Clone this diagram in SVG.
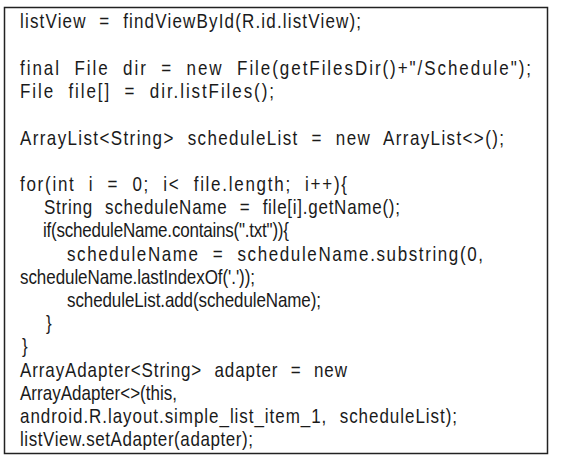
<svg xmlns="http://www.w3.org/2000/svg" width="567" height="456" viewBox="0 0 567 456">
<style>
.code{font-family:"Liberation Sans",Arial,sans-serif;font-size:20px;fill:#1a1a1a;word-spacing:8px}
.box{fill:#fff;stroke:#222;stroke-width:1.5}
</style>
<rect width="567" height="456" fill="#fff"/>
<g id="codebox">
<rect class="box" x="4.5" y="7.5" width="543" height="446"/>
<g transform="scale(0.85,1)">
<text class="code" x="23.53" y="28.5" textLength="401.2" lengthAdjust="spacing">listView = findViewById(R.id.listView);</text>
<text class="code" x="23.53" y="75" textLength="601.2" lengthAdjust="spacing">final File dir = new File(getFilesDir()+"/Schedule");</text>
<text class="code" x="23.53" y="98.2" textLength="298.8" lengthAdjust="spacing">File file[] = dir.listFiles();</text>
<text class="code" x="23.53" y="144.6" textLength="569.4" lengthAdjust="spacing">ArrayList&lt;String&gt; scheduleList = new ArrayList&lt;&gt;();</text>
<text class="code" x="23.53" y="191" textLength="384.7" lengthAdjust="spacing">for(int i = 0; i&lt; file.length; i++){</text>
<text class="code" x="51.76" y="214.2" textLength="418.8" lengthAdjust="spacing">String scheduleName = file[i].getName();</text>
<text class="code" x="50.59" y="237.4" textLength="289.4" lengthAdjust="spacing">if(scheduleName.contains(".txt")){</text>
<text class="code" x="78.82" y="260.6" textLength="489.4" lengthAdjust="spacing">scheduleName = scheduleName.substring(0,</text>
<text class="code" x="23.53" y="283.8" textLength="276.5" lengthAdjust="spacing">scheduleName.lastIndexOf('.'));</text>
<text class="code" x="78.82" y="307" textLength="298.8" lengthAdjust="spacing">scheduleList.add(scheduleName);</text>
<text class="code" x="54.12" y="330.2">}</text>
<text class="code" x="25.88" y="353.4">}</text>
<text class="code" x="23.53" y="376.6" textLength="384.7" lengthAdjust="spacing">ArrayAdapter&lt;String&gt; adapter = new</text>
<text class="code" x="23.53" y="399.8" textLength="184.7" lengthAdjust="spacing">ArrayAdapter&lt;&gt;(this,</text>
<text class="code" x="23.53" y="423" textLength="514.1" lengthAdjust="spacing">android.R.layout.simple_list_item_1, scheduleList);</text>
<text class="code" x="23.53" y="446.2" textLength="274.1" lengthAdjust="spacing">listView.setAdapter(adapter);</text>
</g>
</g>
</svg>
